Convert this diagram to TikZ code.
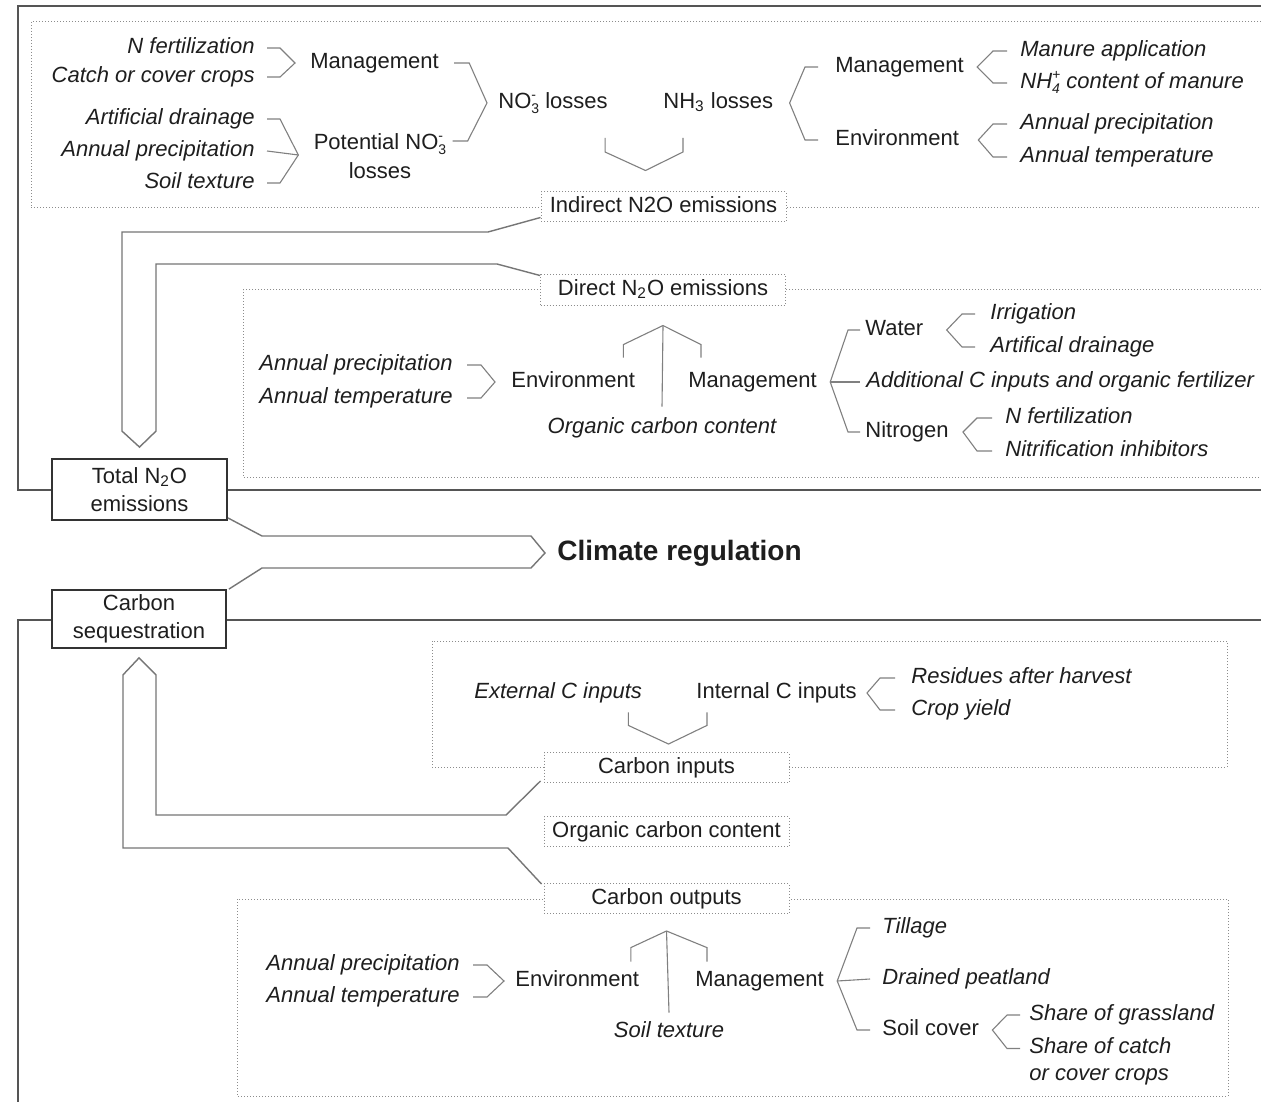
\documentclass[tikz,border=0pt]{standalone}
\usepackage{fontspec}
\setmainfont{Liberation Sans}
\usetikzlibrary{calc}
\definecolor{txtc}{HTML}{1E1E1E}
\definecolor{frmc}{HTML}{555555}
\definecolor{brkc}{HTML}{808080}
\definecolor{arwc}{HTML}{767676}
\definecolor{dotc}{HTML}{8C8C8C}
\definecolor{boxc}{HTML}{333333}
% stacked charge over index (NO3-, NH4+)
\newcommand\ionidx[2]{\raisebox{-2.4pt}{\fontsize{7}{6.8}\selectfont\begin{tabular}[b]{@{}l@{}}#2\\#1\end{tabular}}}

\begin{document}
\begin{tikzpicture}[x=0.5pt, y=-0.5pt,
		txt/.style={inner sep=0pt, text height=8pt, text depth=2.5pt, text=txtc, font=\fontsize{11}{14}\selectfont},
		fac/.style={txt, font=\fontsize{11}{14}\selectfont\itshape},
		twoline/.style={inner sep=0pt, text=txtc, font=\fontsize{11}{14.5}\selectfont},
		sbox/.style={txt, draw=dotc, densely dotted, line width=0.5pt, fill=white, minimum width=122.5pt, minimum height=15pt},
		mbox/.style={draw=boxc, line width=0.9pt, fill=white, align=center, inner sep=0pt, text=txtc, font=\fontsize{11}{14}\selectfont},
		frm/.style={draw=frmc, line width=1pt},
		dotln/.style={draw=dotc, densely dotted, line width=0.5pt},
		brk/.style={draw=brkc, line width=0.55pt, line join=miter},
		arw/.style={draw=arwc, line width=0.7pt, line join=miter}]
		\fill[white] (0,0) rectangle (1261,1101);
		\useasboundingbox (0,0) rectangle (1261,1101);

		% frames
		\draw[frm] (1270,6) -- (18,6) -- (18,490) -- (1270,490);
		\draw[frm] (1270,620) -- (18,620) -- (18,1110);
		\draw[dotln] (1270,22) -- (31,22) -- (31,208) -- (1270,208);
		\draw[dotln] (1270,290) -- (243,290) -- (243,477) -- (1270,477);
		\draw[dotln] (432,641) rectangle (1227,767);
		\draw[dotln] (237,899) rectangle (1228,1096);

		% indirect N2O
		\node[fac, anchor=east] (nfert) at (255,48) {N fertilization};
		\node[fac, anchor=east] (catch) at (255,77) {Catch or cover crops};
		\node[txt, anchor=west] (mgA) at (310,63) {Management};
		\node[fac, anchor=east] (adrain) at (255,119) {Artificial drainage};
		\node[fac, anchor=east] (aprecA) at (255,151) {Annual precipitation};
		\node[fac, anchor=east] (soilA) at (255,183) {Soil texture};
		\node[twoline, align=center] (pno) at (380,155) {Potential NO\ionidx{3}{-}\\losses};
		\node[txt, anchor=west] (no) at (498,103) {NO\ionidx{3}{-} losses};
		\node[txt, anchor=west] (nh) at (663,103) {NH\textsubscript{3} losses};
		\node[txt, anchor=west] (mgB) at (835,67) {Management};
		\node[txt, anchor=west] (envB) at (835,140) {Environment};
		\node[fac, anchor=west] (manapp) at (1020,51) {Manure application};
		\node[fac, anchor=west] (nhfour) at (1020,83) {NH\ionidx{4}{+} content of manure};
		\node[fac, anchor=west] (aprecB) at (1020,124) {Annual precipitation};
		\node[fac, anchor=west] (atempB) at (1020,157) {Annual temperature};
		\node[sbox] (ind) at (663.5,207) {Indirect N2O emissions};

		% direct N2O
		\node[sbox] (dir) at (663,290) {Direct N\textsubscript{2}O emissions};
		\node[fac, anchor=east] (aprecC) at (453,365) {Annual precipitation};
		\node[fac, anchor=east] (atempC) at (453,398) {Annual temperature};
		\node[txt, anchor=west] (envC) at (511,382) {Environment};
		\node[txt, anchor=west] (mgC) at (688,382) {Management};
		\node[fac] (occ) at (662,428) {Organic carbon content};
		\node[txt, anchor=west] (water) at (865,330) {Water};
		\node[fac, anchor=west] (addc) at (866,382) {Additional C inputs and organic fertilizer};
		\node[txt, anchor=west] (nitro) at (865,432) {Nitrogen};
		\node[fac, anchor=west] (irr) at (990,314) {Irrigation};
		\node[fac, anchor=west] (adrainC) at (990,347) {Artifical drainage};
		\node[fac, anchor=west] (nfertC) at (1005,418) {N fertilization};
		\node[fac, anchor=west] (nitinh) at (1005,451) {Nitrification inhibitors};

		% totals
		\node[mbox, minimum width=87.5pt, minimum height=30.5pt] (tot) at (139.5,489.5) {Total N\textsubscript{2}O\\emissions};
		\node[mbox, minimum width=87pt, minimum height=29pt] (car) at (139,619) {Carbon\\sequestration};
		\node[txt, anchor=west, text height=10pt, text depth=3pt, font=\fontsize{14}{17}\selectfont\bfseries] (clim) at (557,553) {Climate regulation};

		% carbon inputs
		\node[fac, anchor=west] (ext) at (474,693) {External C inputs};
		\node[txt, anchor=west] (intc) at (696,693) {Internal C inputs};
		\node[fac, anchor=west] (res) at (911,678) {Residues after harvest};
		\node[fac, anchor=west] (cy) at (911,710) {Crop yield};
		\node[sbox] (cin) at (666.5,767.5) {Carbon inputs};
		\node[sbox] (coc) at (666.5,831.5) {Organic carbon content};
		\node[sbox] (cout) at (666.5,898.5) {Carbon outputs};

		% carbon outputs
		\node[fac, anchor=east] (aprecD) at (460,965) {Annual precipitation};
		\node[fac, anchor=east] (atempD) at (460,997) {Annual temperature};
		\node[txt, anchor=west] (envD) at (515,981) {Environment};
		\node[txt, anchor=west] (mgD) at (695,981) {Management};
		\node[fac] (soilD) at (669,1032) {Soil texture};
		\node[fac, anchor=west] (tillage) at (882,928) {Tillage};
		\node[fac, anchor=west] (drained) at (882,979) {Drained peatland};
		\node[txt, anchor=west] (scover) at (882,1030) {Soil cover};
		\node[fac, anchor=west] (sog) at (1029,1015) {Share of grassland};
		\node[twoline, align=left, anchor=north west, font=\fontsize{11}{13.5}\selectfont\itshape] (socc) at (1029,1037.5) {Share of catch\\or cover crops};

		% brackets, indirect
		\coordinate (apA) at ($(mgA.west)+(-15,0)$);
		\draw[brk] ($(nfert.east)+(12,0)$) -- ++(13,0) -- (apA) -- ($(catch.east)+(25,0)$) -- ++(-13,0);
		\coordinate (apB) at ($(pno.west)+(-15,0)$);
		\draw[brk] ($(adrain.east)+(12,0)$) -- ++(13,0) -- (apB) -- ($(soilA.east)+(25,0)$) -- ++(-13,0);
		\draw[brk] ($(aprecA.east)+(12,0)$) -- (apB);
		\draw[brk] ($(mgA.east)+(15,0)$) -- ++(15,0) -- ($(no.west)+(-11,0)$) -- ($(pno.east)+(21,-14)$) -- ++(-15,0);
		\draw[brk] ($(mgB.west)+(-17,0)$) -- ++(-13,0) -- ($(nh.east)+(16,0)$) -- ($(envB.west)+(-30,0)$) -- ++(13,0);
		\draw[brk] ($(manapp.west)+(-13,0)$) -- ++(-14,0) -- ($(mgB.east)+(13,0)$) -- ($(nhfour.west)+(-27,0)$) -- ++(14,0);
		\draw[brk] ($(aprecB.west)+(-13,0)$) -- ++(-14,0) -- ($(envB.east)+(19,0)$) -- ($(atempB.west)+(-27,0)$) -- ++(14,0);
		\draw[brk] ($(no.east)+(-3,35)$) -- ++(0,14) -- ($(ind.north)+(-18,-21)$) -- ($(nh.west)+(20,49)$) -- ++(0,-14);

		% brackets, direct
		\draw[brk] ($(aprecC.east)+(14,0)$) -- ++(14,0) -- ($(envC.west)+(-16,0)$) -- ($(atempC.east)+(28,0)$) -- ++(-14,0);
		\draw[brk] ($(occ.north)+(0,-10.5)$) -- ($(dir.south)+(0,20)$);
		\draw[brk] ($(envC.north east)+(-12,-13.5)$) -- ++(0,-13) -- ($(dir.south)+(0,20)$) -- ($(mgC.north west)+(13,-26.5)$) -- ++(0,13);
		\coordinate (apE) at ($(mgC.east)+(13,0)$);
		\draw[brk] ($(water.west)+(-5,0)$) -- ++(-12,0) -- (apE) -- ($(nitro.west)+(-17,0)$) -- ++(12,0);
		\draw[brk] (apE) -- ($(addc.west)+(-6,0)$);
		\draw[brk] ($(irr.west)+(-15,0)$) -- ++(-13,0) -- ($(water.east)+(23,0)$) -- ($(adrainC.west)+(-28,0)$) -- ++(13,0);
		\draw[brk] ($(nfertC.west)+(-13,0)$) -- ++(-15,0) -- ($(nitro.east)+(14,0)$) -- ($(nitinh.west)+(-28,0)$) -- ++(15,0);

		% brackets, carbon inputs
		\draw[brk] ($(res.west)+(-16,0)$) -- ++(-15,0) -- ($(intc.east)+(10,0)$) -- ($(cy.west)+(-31,0)$) -- ++(15,0);
		\draw[brk] ($(ext.south east)+(-14,8.5)$) -- ++(0,13) -- ($(cin.north)+(2,-8)$) -- ($(intc.south west)+(11,21.5)$) -- ++(0,-13);

		% brackets, carbon outputs
		\draw[brk] ($(aprecD.east)+(13,0)$) -- ++(14,0) -- ($(envD.west)+(-11,0)$) -- ($(atempD.east)+(27,0)$) -- ++(-14,0);
		\draw[brk] ($(soilD.north)+(0,-8.5)$) -- ($(cout.south)+(0,17)$);
		\draw[brk] ($(envD.north east)+(-8.5,-8.5)$) -- ++(0,-14) -- ($(cout.south)+(0,17)$) -- ($(mgD.north west)+(12,-22.5)$) -- ++(0,14);
		\coordinate (apF) at ($(mgD.east)+(13,0)$);
		\draw[brk] ($(tillage.west)+(-12,0)$) -- ++(-13,0) -- (apF) -- ($(scover.west)+(-25,0)$) -- ++(13,0);
		\draw[brk] (apF) -- ($(drained.west)+(-12,0)$);
		\draw[brk] ($(sog.west)+(-9,0)$) -- ++(-13,0) -- ($(scover.east)+(13,0)$) -- ($(socc.north west)+(-22,11)$) -- ++(13,0);

		% hollow arrows
		\draw[arw] ($(ind.south west)+(0,-5)$) -- (488,232) -- (122,232) -- ($(tot.north)+(-17.5,-27)$) -- ($(tot.north)+(0,-11)$) -- ($(tot.north)+(16.5,-27)$) -- (156,264) -- (497,264) -- ($(dir.north west)+(0,1)$);
		\draw[arw] ($(tot.south east)+(0,-3)$) -- (262,536) -- (531,536) -- ($(clim.west)+(-12,0)$) -- (531,568) -- (262,568) -- ($(car.north east)+(2,0)$);
		\draw[arw] ($(cin.south west)+(-3,-2)$) -- (506,815) -- (156,815) -- ($(car.south)+(17,26)$) -- ($(car.south)+(0,9)$) -- ($(car.south)+(-16,26)$) -- (123,848) -- (508,848) -- ($(cout.north west)+(-2,1)$);
	\end{tikzpicture}
\end{document}
